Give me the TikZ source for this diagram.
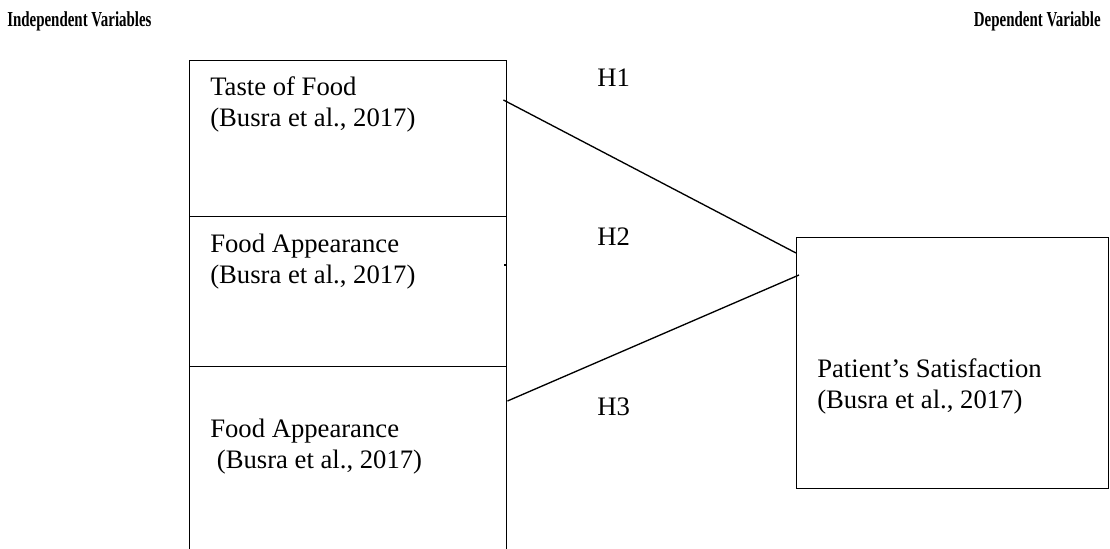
\documentclass[tikz,border=0pt]{standalone}
\usepackage{fontspec}
\setmainfont{Liberation Serif}
\newfontfamily\headfont{Liberation Serif}[FakeStretch=0.7]
\usetikzlibrary{calc}

\begin{document}
\begin{tikzpicture}
[x=0.75pt,y=-0.75pt,
  boxDecorate/.style={shape=rectangle,draw,line width=1.1pt,inner sep=0pt,anchor=north west},
  textDecorate/.style={inner sep=0pt,anchor=north west,align=left,font=\fontsize{20}{23.25}\selectfont},
  labelDecorate/.style={inner sep=0pt,anchor=base west,font=\fontsize{20}{24}\selectfont},
  headDecorate/.style={inner sep=0pt,anchor=base west,font=\headfont\fontsize{16}{19}\selectfont\bfseries},
  lineDecorate/.style={-,line width=1pt}]
\clip (0,0) rectangle (1110,549);
%% boxes
\foreach \nodename/\x/\y/\w/\h in {
  taste/189/60/317/156, look/189/216/317/150, lookb/189/366/317/250,
  satis/796/237/312/251}
{
  \node (\nodename) at (\x,\y) [boxDecorate,minimum width=\w*0.75pt,minimum height=\h*0.75pt] {};
}
%% box texts
\node (tastetext) at (210,76.5) [textDecorate] {Taste of Food\\(Busra et al., 2017)};
\node (looktext) at (210,233.5) [textDecorate] {Food Appearance\\(Busra et al., 2017)};
\node (lookbtext) at (210,418.5) [textDecorate] {Food Appearance\\\hspace{5pt}(Busra et al., 2017)};
\node (satistext) at (817,358.5) [textDecorate] {Patient’s Satisfaction\\(Busra et al., 2017)};
%% headings
\node (indep) at (7,27) [headDecorate] {Independent Variables};
\node (dep) at (1101,27) [headDecorate,anchor=base east] {Dependent Variable};
%% hypotheses
\foreach \nodename/\y/\hyp in {hone/87/H1, htwo/245/H2, hthree/415/H3}
{
  \node (\nodename) at (597,\y) [labelDecorate] {\hyp};
}
%% edges or lines
\coordinate (tastefrom) at ($(taste.north east)+(-4,40)$);
\coordinate (tasteto) at ($(satis.north west)+(0,16)$);
\coordinate (lookbfrom) at ($(lookb.north east)+(0,35)$);
\coordinate (lookbto) at ($(satis.north west)+(3,38)$);
\coordinate (tickfrom) at ($(look.north east)+(-3,49)$);
\coordinate (tickto) at ($(look.north east)+(0,49)$);
\path
\foreach \startnode/\endnode in {tastefrom/tasteto, lookbfrom/lookbto, tickfrom/tickto}
{
  (\startnode) edge[lineDecorate] (\endnode)
};
\end{tikzpicture}
\end{document}
